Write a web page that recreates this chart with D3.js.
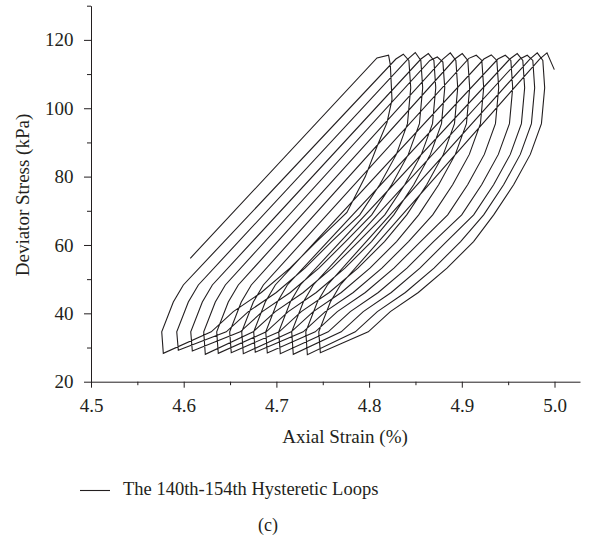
<!DOCTYPE html>
<html>
<head>
<meta charset="utf-8">
<script src="https://cdn.jsdelivr.net/npm/d3@7"></script>
<style>
  body { margin: 0; background: #fff; }
  text { font-family: "Liberation Serif", "DejaVu Serif", serif; fill: #231f20; }
</style>
</head>
<body>
<div id="chart"></div>
<script>
// tick values
const xMajor = [4.5, 4.6, 4.7, 4.8, 4.9, 5.0];
const xMinor = [4.55, 4.65, 4.75, 4.85, 4.95];
const yMajor = [20, 40, 60, 80, 100, 120];
const yMinor = [30, 50, 70, 90, 110, 130];

// [axial strain %, deviator stress kPa], cycle by cycle
const cycle140 = [[4.6071,56.1],[4.8085,114.7],[4.8210,115.5],
  [4.8229,112.7],[4.8247,102.5],[4.8193,95.8],[4.8085,88.8],[4.7959,80.0],[4.7760,69.5],
  [4.7433,61.0],[4.7146,53.2],[4.6837,46.1],[4.6535,40.5],[4.6297,34.6],[4.5780,28.3]];
const cycle141 = [[4.5763,34.6],[4.5888,43.3],[4.5996,48.3],[4.8289,114.4],[4.8369,115.8],
  [4.8429,114.0],[4.8449,106.0],[4.8414,95.5],[4.8294,86.5],[4.8114,77.6],[4.7899,68.8],
  [4.7595,61.0],[4.7308,53.2],[4.6999,46.1],[4.6697,40.5],[4.6459,34.6],[4.5942,29.2]];
const cycle142 = [[4.5925,34.6],[4.6050,43.3],[4.6158,48.3],[4.8418,114.4],[4.8498,116.3],
  [4.8558,114.0],[4.8578,106.0],[4.8543,95.5],[4.8423,86.5],[4.8243,77.6],[4.8028,68.8],
  [4.7746,61.0],[4.7459,53.2],[4.7150,46.1],[4.6848,40.5],[4.6610,34.6],[4.6093,29.0]];
const cycle143 = [[4.6076,34.6],[4.6201,43.3],[4.6309,48.3],[4.8559,114.4],[4.8639,116.0],
  [4.8699,114.0],[4.8719,106.0],[4.8684,95.5],[4.8564,86.5],[4.8384,77.6],[4.8169,68.8],
  [4.7886,61.0],[4.7599,53.2],[4.7290,46.1],[4.6988,40.5],[4.6750,34.6],[4.6233,28.0]];
const cycle144 = [[4.6216,34.6],[4.6341,43.3],[4.6449,48.3],[4.8656,114.0],[4.8736,115.0],
  [4.8796,113.5],[4.8816,106.0],[4.8781,95.5],[4.8661,86.5],[4.8481,77.6],[4.8266,68.8],
  [4.8026,61.0],[4.7739,53.2],[4.7430,46.1],[4.7128,40.5],[4.6890,34.6],[4.6373,28.3]];
const cycle145 = [[4.6356,34.6],[4.6481,43.3],[4.6589,48.3],[4.8796,114.4],[4.8876,116.2],
  [4.8936,114.0],[4.8956,106.0],[4.8921,95.5],[4.8801,86.5],[4.8621,77.6],[4.8406,68.8],
  [4.8166,61.0],[4.7879,53.2],[4.7570,46.1],[4.7268,40.5],[4.7030,34.6],[4.6513,28.5]];
const cycle146 = [[4.6496,34.6],[4.6621,43.3],[4.6729,48.3],[4.8925,114.4],[4.9005,116.0],
  [4.9065,114.0],[4.9085,106.0],[4.9050,95.5],[4.8930,86.5],[4.8750,77.6],[4.8535,68.8],
  [4.8296,61.0],[4.8009,53.2],[4.7700,46.1],[4.7398,40.5],[4.7160,34.6],[4.6643,28.2]];
const cycle147 = [[4.6626,34.6],[4.6751,43.3],[4.6859,48.3],[4.9076,114.6],[4.9156,115.5],
  [4.9216,114.0],[4.9236,106.0],[4.9201,95.5],[4.9081,86.5],[4.8901,77.6],[4.8686,68.8],
  [4.8425,61.0],[4.8138,53.2],[4.7829,46.1],[4.7527,40.5],[4.7289,34.6],[4.6772,28.6]];
const cycle148 = [[4.6755,34.6],[4.6880,43.3],[4.6988,48.3],[4.9238,114.4],[4.9318,115.6],
  [4.9378,114.0],[4.9398,106.0],[4.9363,95.5],[4.9243,86.5],[4.9063,77.6],[4.8848,68.8],
  [4.8555,61.0],[4.8268,53.2],[4.7959,46.1],[4.7657,40.5],[4.7419,34.6],[4.6902,28.4]];
const cycle149 = [[4.6885,34.6],[4.7010,43.3],[4.7118,48.3],[4.9389,114.4],[4.9469,115.5],
  [4.9529,114.0],[4.9549,106.0],[4.9514,95.5],[4.9394,86.5],[4.9214,77.6],[4.8999,68.8],
  [4.8695,61.0],[4.8408,53.2],[4.8099,46.1],[4.7797,40.5],[4.7559,34.6],[4.7042,28.2]];
const cycle150 = [[4.7025,34.6],[4.7150,43.3],[4.7258,48.3],[4.9518,114.4],[4.9598,116.0],
  [4.9658,114.0],[4.9678,106.0],[4.9643,95.5],[4.9523,86.5],[4.9343,77.6],[4.9128,68.8],
  [4.8835,61.0],[4.8548,53.2],[4.8239,46.1],[4.7937,40.5],[4.7699,34.6],[4.7182,28.0]];
const cycle151 = [[4.7165,34.6],[4.7290,43.3],[4.7398,48.3],[4.9626,114.4],[4.9706,115.5],
  [4.9766,114.0],[4.9786,106.0],[4.9751,95.5],[4.9631,86.5],[4.9451,77.6],[4.9236,68.8],
  [4.8987,61.0],[4.8700,53.2],[4.8391,46.1],[4.8089,40.5],[4.7851,34.6],[4.7334,27.9]];
const cycle152 = [[4.7317,34.6],[4.7442,43.3],[4.7550,48.3],[4.9734,114.4],[4.9814,116.2],
  [4.9874,114.0],[4.9894,106.0],[4.9859,95.5],[4.9739,86.5],[4.9559,77.6],[4.9344,68.8],
  [4.9127,61.0],[4.8840,53.2],[4.8531,46.1],[4.8229,40.5],[4.7991,34.6],[4.7474,28.5]];
const cycle153 = [[4.7457,34.6],[4.7582,43.3],[4.7690,48.3],[4.9839,114.4],[4.9919,116.2],
  [4.9998,111.3]];

const cycles = [cycle140, cycle141, cycle142, cycle143, cycle144, cycle145, cycle146,
  cycle147, cycle148, cycle149, cycle150, cycle151, cycle152, cycle153];

const width = 594, height = 541;
const ink = "#231f20";

const svg = d3.select("#chart").append("svg")
    .attr("width", width)
    .attr("height", height);

const x = d3.scaleLinear().domain([4.5, 5.0275]).range([91, 580]);
const y = d3.scaleLinear().domain([20, 130]).range([381.7, 5.7]);

// Axes: minor ticks first, then major ones with labels
svg.append("g")
    .attr("transform", "translate(0,381.7)")
    .call(d3.axisBottom(x).tickValues(xMinor).tickSize(3.5).tickSizeOuter(0).tickFormat(""))
    .call(g => g.select(".domain").remove());

const xAxis = svg.append("g")
    .attr("transform", "translate(0,381.7)")
    .call(d3.axisBottom(x).tickValues(xMajor).tickSize(6).tickSizeOuter(0)
        .tickPadding(10.5).tickFormat(d3.format(".1f")));

svg.append("g")
    .attr("transform", "translate(91,0)")
    .call(d3.axisLeft(y).tickValues(yMinor).tickSize(4).tickSizeOuter(0).tickFormat(""))
    .call(g => g.select(".domain").remove());

const yAxis = svg.append("g")
    .attr("transform", "translate(91,0)")
    .call(d3.axisLeft(y).tickValues(yMajor).tickSize(7).tickSizeOuter(0).tickPadding(10.5));

svg.selectAll(".tick line, .domain").attr("stroke", ink).attr("stroke-width", 1);
svg.selectAll(".tick text")
    .style("font-family", '"Liberation Serif", serif')
    .style("font-size", "19px")
    .attr("fill", ink);

// Axis labels
svg.append("text")
    .attr("x", 345)
    .attr("y", 443)
    .attr("text-anchor", "middle")
    .style("font-size", "19px")
    .text("Axial Strain (%)");

svg.append("text")
    .attr("transform", "translate(29,195) rotate(-90)")
    .attr("text-anchor", "middle")
    .style("font-size", "19px")
    .text("Deviator Stress (kPa)");

// Hysteretic loops, one continuous trace
const line = d3.line()
    .x(d => x(d[0]))
    .y(d => y(d[1]));

svg.append("path")
    .datum(cycles.flat())
    .attr("fill", "none")
    .attr("stroke", ink)
    .attr("stroke-width", 1.1)
    .attr("stroke-linejoin", "miter")
    .attr("d", line);

// Legend
svg.append("line")
    .attr("x1", 80).attr("x2", 110)
    .attr("y1", 490.5).attr("y2", 490.5)
    .attr("stroke", ink)
    .attr("stroke-width", 1.1);

svg.append("text")
    .attr("x", 123)
    .attr("y", 495)
    .style("font-size", "18.5px")
    .text("The 140th-154th Hysteretic Loops");

svg.append("text")
    .attr("x", 268)
    .attr("y", 531)
    .attr("text-anchor", "middle")
    .style("font-size", "18px")
    .text("(c)");
</script>
</body>
</html>
